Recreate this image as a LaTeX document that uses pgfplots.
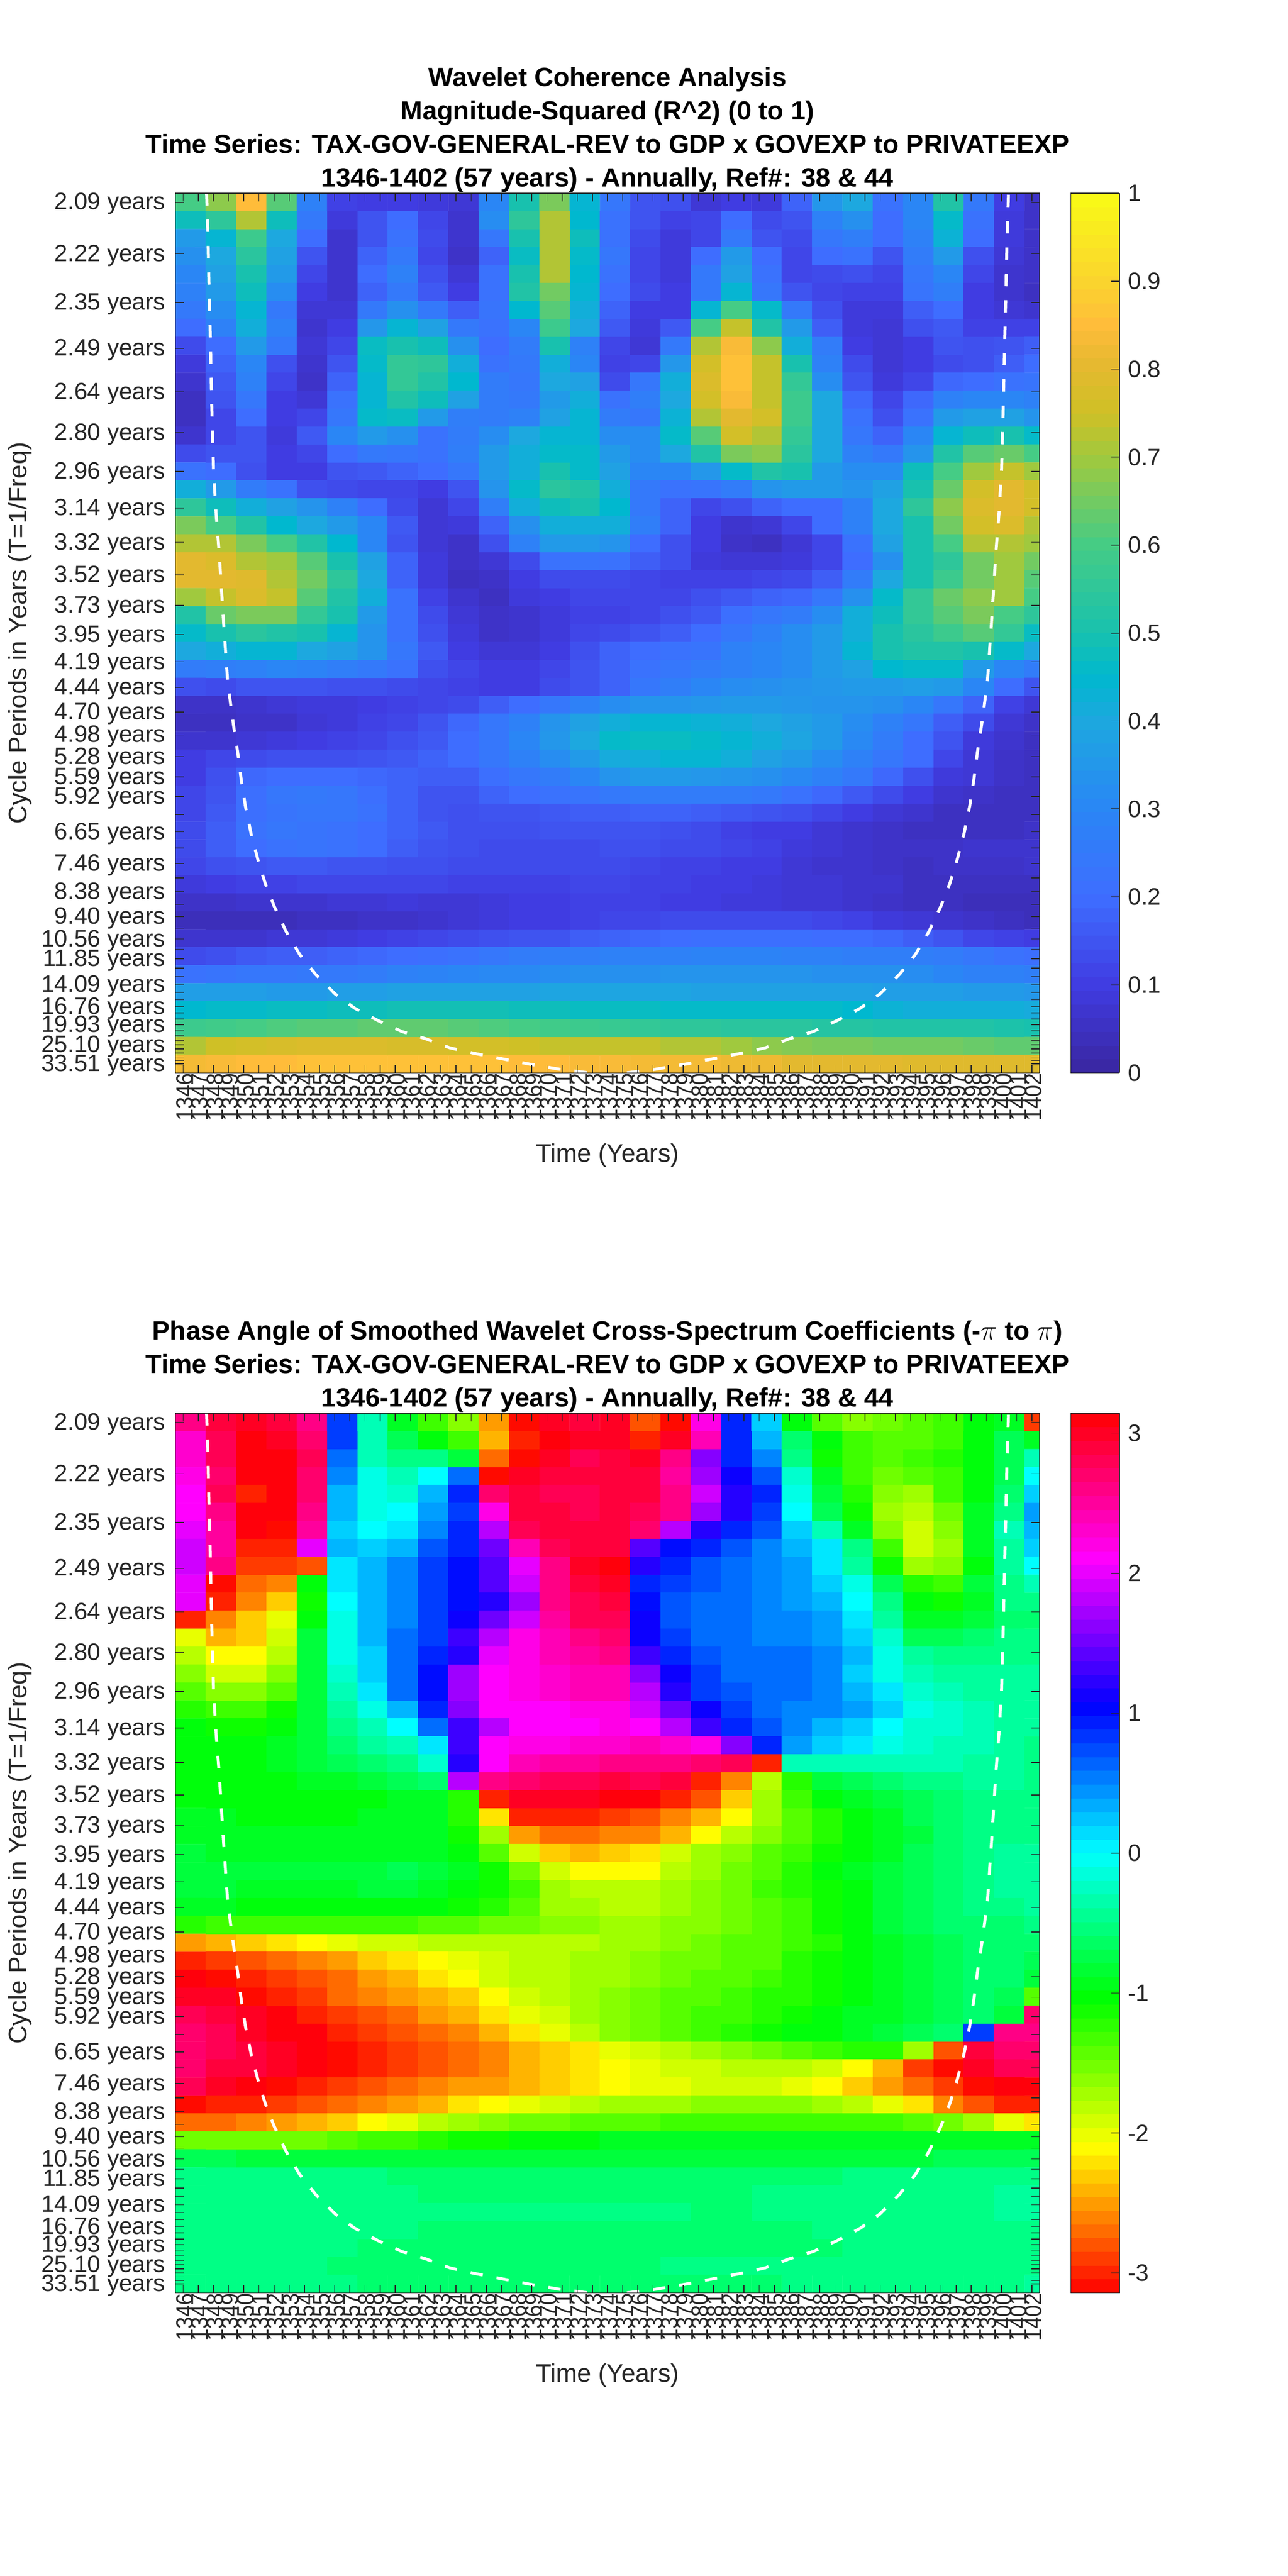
\documentclass[border=0pt]{standalone}
\usepackage{fontspec}
\setmainfont{Liberation Sans}
\usepackage{pgfplots}
\usepackage{pgfplotstable}
\pgfplotsset{compat=1.18}
\definecolor{txt}{HTML}{262626}
% magnitude-squared coherence x100; rows = scales (49), columns = two-year cells (1346-47 ... 1402)
\pgfplotstableread[header=false]{
60 68 85 62 28 11 10 10 9 8 30 50 66 44 24 15 14 8 10 9 18 35 40 22 30 52 25 10 6
48 55 72 48 25 9 15 20 12 7 32 55 72 45 22 15 11 12 20 13 15 28 33 20 30 46 22 9 6
36 44 58 40 20 7 15 22 13 7 24 50 72 48 22 13 9 12 25 15 13 24 27 20 28 43 20 9 6
33 40 54 38 15 7 18 25 12 6 18 47 72 46 24 12 9 20 36 20 12 20 22 15 26 36 14 8 6
30 38 50 36 12 7 20 28 14 8 22 50 72 45 22 12 9 25 38 22 12 13 14 12 24 30 12 7 6
28 36 48 32 10 7 18 25 16 10 22 52 65 44 20 13 10 25 44 24 15 12 11 11 23 27 10 7 5
25 32 44 25 8 8 25 33 25 17 23 45 62 42 18 10 10 44 60 46 25 14 9 9 17 20 10 8 7
20 28 42 28 7 10 35 44 38 25 22 30 58 40 16 9 16 60 74 52 36 17 9 8 14 16 11 11 11
13 20 36 25 8 12 47 50 48 33 20 26 50 28 12 8 25 72 84 68 42 26 10 8 10 15 14 15 17
9 18 30 14 7 15 46 56 55 42 22 25 42 30 11 12 35 76 86 74 50 28 13 8 10 13 14 17 20
7 16 28 12 6 18 44 56 52 45 26 24 40 38 13 24 42 78 86 74 56 32 15 9 12 19 20 22 23
5 15 24 10 8 22 44 52 48 38 26 25 36 42 22 27 40 76 84 74 58 40 19 12 19 28 30 30 28
5 12 20 10 12 24 46 47 36 27 26 28 38 44 26 24 43 72 80 76 58 40 22 14 22 36 38 38 34
7 12 15 9 16 30 36 33 22 26 32 40 44 44 32 32 46 62 76 72 56 40 24 18 30 44 48 50 46
13 15 15 10 12 20 25 24 22 27 36 42 46 46 36 32 40 52 66 68 54 40 28 25 34 52 62 64 60
22 20 14 10 10 15 16 18 20 24 36 42 50 46 38 30 30 35 46 52 50 36 32 32 48 60 70 74 70
42 36 26 22 14 13 12 12 10 15 34 46 54 52 42 25 22 23 26 34 36 36 34 38 50 64 76 80 76
55 48 42 38 34 28 20 13 8 12 27 42 48 50 45 25 18 12 14 18 20 20 28 40 55 68 78 80 76
66 60 52 45 40 36 30 16 8 9 18 33 42 42 42 27 18 10 7 8 12 20 28 40 50 65 76 78 72
72 72 66 60 52 45 30 15 8 6 14 28 36 36 34 20 14 10 6 5 8 12 22 38 50 60 72 72 70
80 78 72 70 62 50 38 18 9 6 8 13 22 23 22 17 14 9 8 8 9 12 20 33 50 55 65 70 65
80 80 79 72 65 55 40 18 9 5 6 10 13 13 13 12 11 11 11 12 13 17 26 40 50 58 65 70 62
70 74 78 74 62 52 42 22 11 7 5 9 10 12 12 12 12 14 16 18 19 24 33 46 56 64 68 70 60
52 64 66 66 56 50 36 22 13 8 6 7 9 11 11 12 14 16 21 24 26 32 42 48 56 62 66 60 55
46 50 54 52 50 44 34 22 14 9 6 7 9 12 13 15 17 20 24 28 32 36 42 50 54 58 62 56 47
40 42 44 44 40 38 34 24 16 10 8 8 10 14 18 20 22 23 28 30 32 36 44 50 52 52 50 46 40
26 27 28 30 29 27 25 22 14 12 10 10 12 15 18 22 24 26 28 30 32 36 38 45 46 46 36 30 26
14 13 15 15 15 14 14 13 12 11 10 10 13 15 18 24 27 30 32 33 34 35 36 36 37 36 30 20 15
6 6 7 8 9 9 10 11 12 13 17 20 24 28 32 34 34 35 36 36 35 34 34 33 30 24 18 11 8
5 5 6 6 8 9 11 12 15 19 24 28 34 38 42 44 44 43 42 40 38 36 32 28 24 17 13 8 6
7 7 8 9 10 11 12 14 16 20 24 30 35 40 46 47 47 46 44 42 39 36 31 26 20 15 9 7 5
10 12 13 14 14 14 15 16 18 20 24 28 32 36 41 42 44 44 42 38 36 32 28 24 20 12 8 6 5
10 14 19 20 20 20 19 18 17 17 21 24 26 30 34 36 36 35 34 33 31 28 25 19 14 9 8 6 5
12 15 21 24 25 24 21 18 15 15 18 20 22 23 25 26 26 26 26 25 22 19 16 13 10 7 6 5 5
12 16 21 23 24 24 22 18 15 14 15 15 16 17 17 18 18 17 16 15 14 12 10 8 7 5 5 5 5
13 17 22 24 23 22 20 18 16 14 14 14 15 15 15 15 14 13 11 10 10 8 7 6 5 5 5 5 6
13 17 20 22 23 22 20 17 15 14 13 13 13 13 14 14 13 13 12 11 9 8 7 6 6 6 7 7 7
12 14 15 16 16 15 15 14 14 13 13 13 13 13 13 12 11 11 10 10 8 7 7 6 5 6 6 6 7
9 10 11 11 12 12 12 12 12 11 11 11 11 12 12 11 11 10 10 9 8 8 7 7 5 5 5 5 5
6 6 7 7 7 8 8 9 8 8 9 10 10 11 11 11 10 10 9 9 8 8 7 6 5 5 4 4 4
4 4 4 4 5 5 6 6 7 8 9 10 10 11 12 12 13 13 13 13 13 12 11 9 8 7 6 5 4
7 7 7 8 8 9 10 11 12 13 14 15 15 17 18 19 20 21 21 21 21 20 20 19 17 15 12 11 10
13 14 16 17 17 18 19 20 21 22 24 26 27 27 28 28 28 29 29 29 28 28 27 27 27 26 24 22 21
22 23 24 24 25 25 26 28 29 30 31 31 32 33 33 33 34 34 34 34 34 33 33 33 32 30 28 28 27
37 37 37 36 36 37 37 38 38 38 38 38 39 39 39 39 39 38 38 38 38 38 38 37 37 37 36 36 35
45 46 46 47 47 48 48 49 49 49 49 48 48 47 47 47 46 46 46 46 46 46 45 43 42 42 42 42 41
58 59 60 61 62 62 63 63 63 62 61 60 59 58 57 56 55 55 54 54 54 53 53 52 52 52 52 51 50
72 75 76 77 78 78 78 77 77 76 76 75 74 74 74 74 72 72 70 68 67 66 66 65 65 65 64 63 63
83 84 85 85 86 86 86 86 86 86 86 85 85 84 84 83 83 83 82 82 80 80 80 80 79 79 79 79 79
}\cohdata
% phase angle x10 (tenths of a radian)
\pgfplotstableread[header=false]{
26 29 30 29 26 8 -3 -9 -13 -16 -25 -31 30 29 30 -28 -31 22 9 2 -10 -14 -16 -15 -14 -13 -10 -9 -29
23 28 31 30 27 8 -3 -7 -10 -13 -24 -30 31 30 30 -30 30 24 9 3 -6 -10 -13 -14 -14 -13 -10 -7 -9
23 28 31 31 28 6 -3 -5 -5 -8 -27 -31 30 28 29 30 26 16 9 5 -5 -11 -13 -14 -13 -12 -10 -7 -3
22 27 31 31 27 5 -1 -3 0 6 -31 30 29 29 29 29 25 17 11 7 -2 -9 -13 -15 -14 -13 -10 -7 0
21 28 -30 31 27 3 -1 -2 3 9 27 29 28 28 29 29 26 19 12 9 -1 -8 -12 -16 -17 -13 -10 -6 2
21 26 31 31 26 3 -1 0 4 8 22 29 29 28 29 28 26 17 12 8 0 -7 -11 -17 -18 -15 -9 -5 4
20 25 31 -31 25 2 0 1 5 9 18 28 29 29 29 27 18 12 9 7 2 -3 -9 -16 -19 -16 -9 -3 3
19 25 -30 -30 20 3 2 3 7 9 15 24 28 29 29 14 10 9 7 5 3 1 -5 -13 -19 -17 -9 -4 2
19 26 -29 -29 -28 1 3 5 8 10 14 20 26 30 31 12 9 7 6 5 4 1 -4 -11 -17 -16 -10 -4 0
20 -31 -27 -26 -10 1 3 5 8 10 14 19 26 29 30 9 8 7 6 5 4 2 -1 -7 -12 -13 -8 -5 -3
20 -30 -26 -23 -11 0 3 5 8 10 12 17 26 28 29 10 7 6 6 5 4 3 0 -5 -10 -11 -9 -5 -5
-30 -26 -23 -20 -10 -1 3 5 8 11 15 19 25 28 28 11 7 6 6 5 5 4 1 -4 -9 -9 -8 -6 -6
-20 -24 -23 -19 -8 -1 3 6 8 13 18 22 24 26 27 11 8 6 6 5 5 4 2 -2 -7 -7 -6 -5 -5
-18 -21 -21 -18 -8 -1 2 6 9 12 20 22 24 25 26 13 9 7 6 6 6 5 3 -1 -4 -5 -5 -5 -5
-16 -19 -19 -16 -8 -2 2 6 10 17 21 22 23 24 24 16 11 8 6 6 6 5 2 -1 -3 -4 -4 -4 -4
-14 -16 -16 -14 -8 -3 1 6 10 17 21 22 23 24 24 18 12 8 7 6 6 5 3 1 -2 -3 -4 -4 -4
-12 -13 -13 -11 -8 -4 -1 3 9 16 21 21 21 22 22 19 15 11 8 6 5 5 4 2 -1 -2 -3 -4 -4
-10 -11 -11 -10 -8 -5 -3 0 6 13 18 21 21 21 22 21 18 13 9 7 5 3 2 0 -2 -2 -3 -4 -4
-10 -10 -10 -9 -8 -6 -4 -3 1 13 21 22 22 23 23 24 23 22 16 9 4 2 1 -1 -2 -3 -3 -4 -5
-10 -10 -10 -9 -8 -7 -6 -5 -2 12 21 24 25 25 26 26 26 27 28 -30 -3 -3 -3 -3 -3 -3 -4 -4 -5
-10 -10 -10 -10 -9 -9 -8 -7 -6 18 26 27 28 28 29 28 29 -30 -26 -18 -12 -8 -7 -6 -5 -5 -4 -4 -5
-10 -10 -10 -10 -10 -10 -10 -9 -9 -12 -30 30 30 30 31 31 -30 -28 -23 -17 -13 -10 -9 -8 -7 -6 -5 -5 -5
-9 -9 -10 -10 -10 -10 -9 -9 -9 -12 -22 -30 -30 -30 -29 -28 -26 -24 -21 -17 -14 -12 -10 -9 -7 -6 -5 -5 -5
-9 -9 -9 -9 -9 -9 -9 -9 -9 -11 -17 -25 -27 -27 -26 -26 -24 -21 -18 -16 -14 -12 -10 -9 -8 -6 -5 -5 -5
-8 -9 -9 -9 -9 -9 -9 -9 -9 -10 -14 -19 -23 -24 -23 -22 -19 -17 -16 -14 -13 -11 -10 -9 -7 -6 -5 -4 -4
-8 -8 -8 -8 -8 -8 -8 -7 -8 -9 -11 -15 -19 -21 -21 -21 -18 -17 -15 -14 -12 -10 -9 -8 -7 -6 -5 -4 -4
-8 -8 -9 -9 -9 -9 -8 -8 -9 -10 -11 -13 -17 -18 -18 -18 -17 -16 -15 -13 -12 -11 -10 -8 -7 -6 -5 -4 -4
-9 -9 -10 -10 -10 -10 -10 -10 -10 -11 -12 -14 -17 -17 -18 -18 -17 -16 -15 -14 -13 -11 -10 -8 -7 -6 -5 -5 -4
-12 -13 -13 -13 -13 -13 -13 -13 -14 -14 -15 -15 -16 -16 -17 -17 -16 -16 -15 -14 -13 -11 -10 -8 -7 -6 -6 -6 -5
-25 -24 -23 -22 -21 -20 -19 -19 -18 -18 -18 -18 -18 -18 -17 -17 -16 -15 -14 -14 -13 -12 -10 -9 -8 -7 -6 -6 -6
-30 -29 -28 -27 -26 -25 -23 -22 -21 -20 -19 -18 -18 -17 -17 -16 -15 -15 -14 -14 -12 -11 -10 -9 -8 -7 -6 -6 -7
31 -31 -30 -29 -28 -27 -25 -24 -22 -21 -19 -18 -18 -17 -17 -16 -15 -14 -14 -13 -12 -11 -10 -9 -8 -7 -6 -6 -8
30 30 -31 -30 -29 -27 -26 -25 -24 -23 -21 -19 -18 -17 -16 -15 -14 -14 -13 -12 -12 -11 -10 -9 -8 -7 -6 -7 -14
28 29 30 31 -30 -29 -28 -27 -25 -24 -22 -20 -19 -17 -16 -15 -14 -13 -13 -12 -11 -10 -9 -9 -8 -7 -6 -8 27
27 28 30 31 31 -30 -29 -28 -27 -26 -24 -22 -20 -18 -16 -15 -14 -13 -12 -11 -10 -10 -9 -8 -7 -6 8 26 26
27 28 29 30 31 -31 -30 -29 -28 -27 -26 -24 -23 -22 -20 -19 -18 -17 -16 -15 -14 -13 -12 -12 -17 -28 29 27 27
27 29 29 30 31 -31 -30 -29 -28 -27 -26 -24 -23 -22 -21 -20 -19 -19 -18 -18 -18 -19 -21 -24 -29 -31 30 28 28
28 30 31 -31 -30 -29 -28 -27 -26 -25 -25 -24 -23 -22 -21 -20 -20 -19 -19 -19 -20 -21 -23 -25 -27 -29 -31 31 31
-31 -30 -30 -29 -28 -27 -26 -25 -24 -22 -21 -20 -19 -18 -17 -17 -17 -16 -16 -16 -16 -17 -18 -20 -22 -26 -28 -30 -30
-27 -27 -26 -25 -24 -23 -21 -20 -18 -17 -16 -15 -15 -14 -14 -14 -13 -13 -13 -13 -13 -13 -13 -13 -14 -15 -17 -20 -22
-15 -15 -15 -15 -15 -14 -13 -13 -12 -11 -11 -10 -10 -10 -9 -9 -9 -9 -9 -9 -9 -9 -9 -9 -9 -9 -9 -9 -9
-7 -7 -8 -8 -8 -8 -8 -8 -8 -8 -8 -8 -8 -8 -8 -8 -8 -8 -8 -8 -8 -8 -8 -8 -8 -7 -7 -7 -7
-5 -5 -5 -5 -5 -5 -5 -6 -6 -6 -6 -6 -6 -6 -6 -6 -6 -6 -6 -6 -6 -6 -5 -5 -5 -5 -5 -5 -5
-5 -5 -5 -5 -5 -5 -5 -5 -6 -6 -6 -6 -6 -6 -6 -6 -6 -6 -6 -5 -5 -5 -5 -5 -5 -5 -5 -4 -4
-5 -5 -5 -5 -5 -5 -5 -5 -5 -5 -5 -5 -5 -5 -5 -5 -5 -6 -6 -5 -5 -5 -5 -5 -5 -5 -5 -4 -4
-5 -5 -5 -5 -5 -5 -5 -5 -6 -6 -6 -6 -6 -6 -6 -6 -6 -6 -6 -6 -6 -5 -5 -5 -5 -5 -5 -5 -5
-5 -5 -5 -5 -5 -5 -6 -6 -6 -6 -6 -6 -6 -6 -6 -6 -6 -6 -6 -6 -6 -6 -5 -5 -5 -5 -5 -5 -5
-5 -5 -5 -5 -5 -6 -6 -6 -6 -6 -6 -6 -6 -6 -6 -6 -5 -5 -5 -5 -5 -5 -5 -5 -5 -5 -5 -5 -5
-5 -5 -5 -5 -5 -5 -6 -6 -6 -6 -6 -6 -6 -6 -6 -6 -6 -6 -6 -6 -5 -5 -5 -5 -5 -5 -5 -5 -4
}\phasedata
% long form for the matrix plots
\newcommand\buildcoords[3]{%
  \gdef#3{}%
  \pgfplotsforeachungrouped \rowi in {0,...,48}{%
    \pgfplotsforeachungrouped \coli in {0,...,28}{%
      \pgfplotstablegetelem{\rowi}{[index]\coli}\of{#1}%
      \pgfmathsetmacro\cellv{\pgfplotsretval*#2}%
      \pgfmathsetmacro\cellx{\coli==28 ? 1402.5 : 1346.5+2*\coli}%
      \pgfmathsetmacro\celly{\rowi+0.5}%
      \xdef#3{#3 (\cellx,\celly) [\cellv]}%
    }%
  }%
}
\buildcoords{\cohdata}{0.01}{\coordsA}
\buildcoords{\phasedata}{0.1}{\coordsB}
\pgfplotsset{
  wave/.style={
    scale only axis, width=524.25pt, height=533.75pt,
    anchor=south west, axis on top,
    xmin=1345.5, xmax=1402.5, ymin=0, ymax=49, y dir=reverse,
    axis line style={line width=0.5pt,color=txt},
    tick style={color=txt,line width=0.5pt},
    tick align=inside, major tick length=5pt,
    xtick={1346,1347,...,1402},
    ytick={0.5,3.374,6.086,8.646,11.063,13.344,15.496,17.528,19.446,21.256,22.965,24.578,26.1,27.537,28.893,30.173,31.381,32.521,33.598,34.614,35.573,36.478,37.333,38.139,38.9,39.618,40.297,40.937,41.541,42.111,42.649,43.157,43.637,44.089,44.516,44.92,45.3,45.659,45.998,46.318,46.62,46.906,47.174,47.428,47.668,47.894,48.108,48.31,48.5},
    yticklabels={2.09 years,2.22 years,2.35 years,2.49 years,2.64 years,2.80 years,2.96 years,3.14 years,3.32 years,3.52 years,3.73 years,3.95 years,4.19 years,4.44 years,4.70 years,4.98 years,5.28 years,5.59 years,5.92 years,,6.65 years,,7.46 years,,8.38 years,,9.40 years,,10.56 years,,11.85 years,,,14.09 years,,,16.76 years,,,19.93 years,,,,25.10 years,,,,,33.51 years},
    yticklabel style={font=\fontsize{14.4}{14.4}\selectfont,text=txt,inner sep=0pt,xshift=-6pt,yshift=-1pt},
    xticklabels={1346,1347,1348,1349,1350,1351,1352,1353,1354,1355,1356,1357,1358,1359,1360,1361,1362,1363,1364,1365,1366,1367,1368,1369,1370,1371,1372,1373,1374,1375,1376,1377,1378,1379,1380,1381,1382,1383,1384,1385,1386,1387,1388,1389,1390,1391,1392,1393,1394,1395,1396,1397,1398,1399,1400,1401,1402},
    xticklabel style={rotate=90,anchor=east,xscale=0.9,font=\fontsize{14.4}{14.4}\selectfont,text=txt,inner sep=0pt,yshift=-1pt},
    xlabel={Time (Years)},
    xlabel style={at={(rel axis cs:0.5,0)},anchor=center,yshift=-50pt,font=\fontsize{15.4}{15.4}\selectfont,text=txt},
    ylabel={Cycle Periods in Years (T=1/Freq)},
    ylabel style={at={(rel axis cs:0,0.5)},anchor=center,yshift=94.5pt,font=\fontsize{15.4}{15.4}\selectfont,text=txt},
    title style={align=center,font=\fontsize{16}{20.3}\selectfont\bfseries,anchor=south,at={(0.5,1)},yshift=-7.5pt,inner sep=2pt},
    colorbar sampled,
    colorbar style={
      scale only axis, width=29.5pt,
      at={(1.0362,1)}, anchor=north west,
      samples=65,
      axis line style={line width=0.5pt,color=txt},
      tick style={color=txt,line width=0.5pt},
      tick align=inside, major tick length=5pt, ytick pos=right,
      yticklabel pos=right,
      yticklabel style={font=\fontsize{14.4}{14.4}\selectfont,text=txt,inner sep=0pt,xshift=5pt},
    },
  },
  coi/.style={white,line width=1.8pt,dash pattern=on 7.5pt off 8.5pt},
}
\begin{document}
\begin{tikzpicture}
\path[use as bounding box] (0,0) rectangle (781.25pt,1563pt);
\begin{axis}[wave, at={(106.5pt,912pt)},
  colormap={parula}{rgb255(0)=(58,38,160) rgb255(10)=(64,60,226) rgb255(20)=(62,109,255) rgb255(30)=(42,134,245) rgb255(40)=(29,168,223) rgb255(45)=(0,184,207) rgb255(50)=(24,193,174) rgb255(60)=(69,204,133) rgb255(70)=(160,201,62) rgb255(75)=(207,192,38) rgb255(80)=(227,185,47) rgb255(85)=(255,188,58) rgb255(90)=(250,213,46) rgb255(100)=(249,251,21)},
  point meta min=0, point meta max=1,
  colorbar style={ytick={0,0.1,0.2,0.3,0.4,0.5,0.6,0.7,0.8,0.9,1},yticklabels={0,0.1,0.2,0.3,0.4,0.5,0.6,0.7,0.8,0.9,1}},
  title={Wavelet Coherence Analysis\\Magnitude-Squared (R\textasciicircum 2) (0 to 1)\\Time Series: TAX-GOV-GENERAL-REV to GDP x GOVEXP to PRIVATEEXP\\1346-1402 (57 years) - Annually, Ref\#: 38 \& 44}]
\edef\temp{\noexpand\addplot[matrix plot,mesh/cols=29,point meta=explicit,line width=0.1pt] coordinates {\coordsA};}\temp
\addplot[coi] coordinates {(1347.55,0)(1347.63,2.1)(1347.71,5.1)(1347.79,7.9)(1347.89,11.75)(1348,15.3)(1348.18,17.9)(1348.36,19.8)(1348.65,23.65)(1348.8,25.5)(1348.93,27.1)(1349.14,28.5)(1349.32,29.6)(1349.61,31.2)(1349.84,32.7)(1350.1,34.1)(1350.49,35.7)(1350.96,37.2)(1351.4,38.4)(1352,39.7)(1352.78,41.1)(1353.69,42.4)(1354.73,43.5)(1356.03,44.6)(1357.33,45.4)(1358.89,46.1)(1360.45,46.7)(1362,47.1)(1363.58,47.6)(1365.14,47.9)(1366.96,48.2)(1368.78,48.5)(1370.86,48.8)(1372.8,49)(1374,49.1)(1375.2,49)(1377.14,48.8)(1379.22,48.5)(1381.04,48.2)(1382.86,47.9)(1384.42,47.6)(1386,47.1)(1387.55,46.7)(1389.11,46.1)(1390.67,45.4)(1391.97,44.6)(1393.27,43.5)(1394.31,42.4)(1395.22,41.1)(1396,39.7)(1396.6,38.4)(1397.04,37.2)(1397.51,35.7)(1397.9,34.1)(1398.16,32.7)(1398.39,31.2)(1398.68,29.6)(1398.86,28.5)(1399.07,27.1)(1399.2,25.5)(1399.35,23.65)(1399.64,19.8)(1399.82,17.9)(1400,15.3)(1400.11,11.75)(1400.21,7.9)(1400.29,5.1)(1400.37,2.1)(1400.45,0)};
\end{axis}
\begin{axis}[wave, at={(106.5pt,171.75pt)},
  colormap={hsvwheel}{rgb255=(255,0,0) rgb255=(255,255,0) rgb255=(0,255,0) rgb255=(0,255,255) rgb255=(0,0,255) rgb255=(255,0,255) rgb255=(255,0,0)},
  point meta min=-3.1416, point meta max=3.1416,
  colorbar style={ytick={-3,-2,-1,0,1,2,3},yticklabels={-3,-2,-1,0,1,2,3}},
  title={Phase Angle of Smoothed Wavelet Cross-Spectrum Coefficients (-$\pi$ to $\pi$)\\Time Series: TAX-GOV-GENERAL-REV to GDP x GOVEXP to PRIVATEEXP\\1346-1402 (57 years) - Annually, Ref\#: 38 \& 44}]
\edef\temp{\noexpand\addplot[matrix plot,mesh/cols=29,point meta=explicit,line width=0.1pt] coordinates {\coordsB};}\temp
\addplot[coi] coordinates {(1347.55,0)(1347.63,2.1)(1347.71,5.1)(1347.79,7.9)(1347.89,11.75)(1348,15.3)(1348.18,17.9)(1348.36,19.8)(1348.65,23.65)(1348.8,25.5)(1348.93,27.1)(1349.14,28.5)(1349.32,29.6)(1349.61,31.2)(1349.84,32.7)(1350.1,34.1)(1350.49,35.7)(1350.96,37.2)(1351.4,38.4)(1352,39.7)(1352.78,41.1)(1353.69,42.4)(1354.73,43.5)(1356.03,44.6)(1357.33,45.4)(1358.89,46.1)(1360.45,46.7)(1362,47.1)(1363.58,47.6)(1365.14,47.9)(1366.96,48.2)(1368.78,48.5)(1370.86,48.8)(1372.8,49)(1374,49.1)(1375.2,49)(1377.14,48.8)(1379.22,48.5)(1381.04,48.2)(1382.86,47.9)(1384.42,47.6)(1386,47.1)(1387.55,46.7)(1389.11,46.1)(1390.67,45.4)(1391.97,44.6)(1393.27,43.5)(1394.31,42.4)(1395.22,41.1)(1396,39.7)(1396.6,38.4)(1397.04,37.2)(1397.51,35.7)(1397.9,34.1)(1398.16,32.7)(1398.39,31.2)(1398.68,29.6)(1398.86,28.5)(1399.07,27.1)(1399.2,25.5)(1399.35,23.65)(1399.64,19.8)(1399.82,17.9)(1400,15.3)(1400.11,11.75)(1400.21,7.9)(1400.29,5.1)(1400.37,2.1)(1400.45,0)};
\end{axis}
\end{tikzpicture}
\end{document}
